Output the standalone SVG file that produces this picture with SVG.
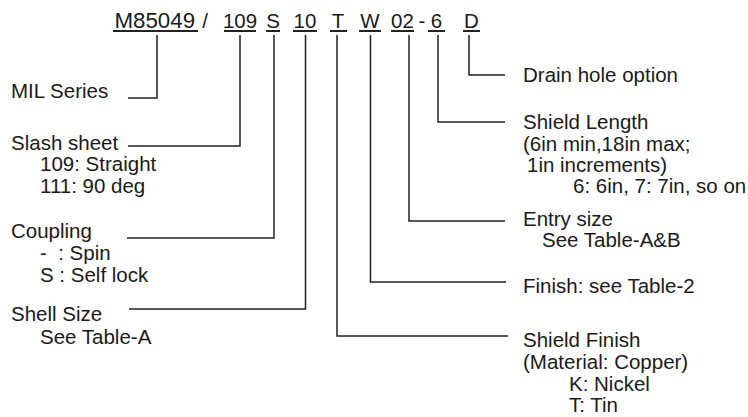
<svg xmlns="http://www.w3.org/2000/svg" width="748" height="417" viewBox="0 0 748 417">
<style>
text{font-family:"Liberation Sans",Arial,sans-serif;font-size:20.5px;fill:#1a1a1a}
.c{text-anchor:middle}
.ul{stroke:#222;stroke-width:2;fill:none}
.cn{stroke:#222;stroke-width:1.5;fill:none}
</style>
<rect width="748" height="417" fill="#fff"/>
<g id="code">
<text x="114.5" y="28" style="font-size:22.3px">M85049</text>
<text class="c" x="205" y="28">/</text>
<text class="c" x="240" y="28">109</text>
<text class="c" x="273" y="28">S</text>
<text class="c" x="305" y="28">10</text>
<text class="c" x="338" y="28">T</text>
<text class="c" x="370" y="28">W</text>
<text class="c" x="402.5" y="28">02</text>
<text class="c" x="422" y="28">-</text>
<text class="c" x="436.5" y="28">6</text>
<text class="c" x="471.5" y="28">D</text>
<path class="ul" d="M113 31H198M224 31H256M266 31H280M293 31H317M330 31H347M359 31H381M391 31H414M428 31H445M463 31H480"/>
</g>
<g id="connectors">
<path class="cn" d="M157 35V98H128"/>
<path class="cn" d="M240 35V146H128"/>
<path class="cn" d="M274 35V238H127"/>
<path class="cn" d="M305.5 35V309H129"/>
<path class="cn" d="M337 35V336H508"/>
<path class="cn" d="M370.5 35V282H506"/>
<path class="cn" d="M409 35V221H505"/>
<path class="cn" d="M438 35V122H505"/>
<path class="cn" d="M469 35V75H505"/>
</g>
<g id="mil-series"><text x="11" y="98">MIL Series</text></g>
<g id="slash-sheet">
<text x="11" y="150">Slash sheet</text>
<text x="40" y="171">109: Straight</text>
<text x="40" y="193">111: 90 deg</text>
</g>
<g id="coupling">
<text x="11" y="238">Coupling</text>
<text x="40" y="260" xml:space="preserve">-  : Spin</text>
<text x="40" y="282">S : Self lock</text>
</g>
<g id="shell-size">
<text x="11" y="321">Shell Size</text>
<text x="40" y="344">See Table-A</text>
</g>
<g id="drain-hole"><text x="523" y="82">Drain hole option</text></g>
<g id="shield-length">
<text x="523" y="129">Shield Length</text>
<text x="523" y="151">(6in min,18in max;</text>
<text x="527" y="172">1in increments)</text>
<text x="573" y="193">6: 6in, 7: 7in, so on</text>
</g>
<g id="entry-size">
<text x="523" y="226">Entry size</text>
<text x="542" y="247">See Table-A&amp;B</text>
</g>
<g id="finish"><text x="523" y="293">Finish: see Table-2</text></g>
<g id="shield-finish">
<text x="523" y="347">Shield Finish</text>
<text x="523" y="369">(Material: Copper)</text>
<text x="569" y="391">K: Nickel</text>
<text x="569" y="412">T: Tin</text>
</g>
</svg>
